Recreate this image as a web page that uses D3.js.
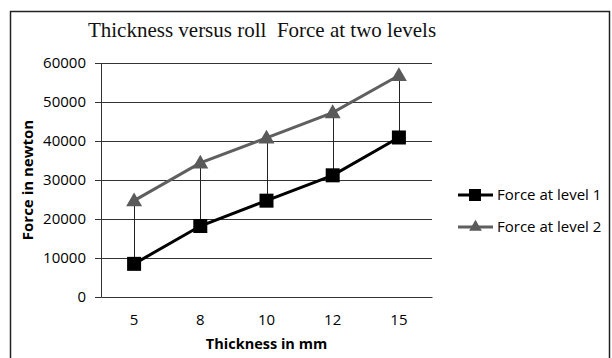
<!DOCTYPE html>
<html>
<head>
<meta charset="utf-8">
<script src="https://cdn.jsdelivr.net/npm/d3@7"></script>
<style>
  body { margin: 0; background: #fff; overflow: hidden; }
</style>
</head>
<body>
<svg id="chart" width="612" height="358"></svg>
<script>
const thickness = ['5', '8', '10', '12', '15'];
const forceLevel1 = [8500, 18200, 24700, 31200, 40900];
const forceLevel2 = [24700, 34400, 40800, 47300, 56800];
const yTicks = [0, 10000, 20000, 30000, 40000, 50000, 60000];
const seriesNames = ['Force at level 1', 'Force at level 2'];

const svg = d3.select('#chart');
const margin = { top: 63, left: 101, right: 180, bottom: 61 };
const width = +svg.attr('width');
const height = +svg.attr('height');
const innerWidth = width - margin.left - margin.right;
const innerHeight = height - margin.top - margin.bottom;
const sans = '"Open Sans", "Liberation Sans", sans-serif';

// outer frame (bottom edge runs past the picture, as in the original)
svg.append('rect')
    .attr('x', 10.5).attr('y', 11.5)
    .attr('width', 599).attr('height', 352)
    .attr('fill', 'none')
    .attr('stroke', '#222')
    .attr('stroke-width', 1.5);

svg.append('text')
    .attr('x', 262).attr('y', 37)
    .attr('text-anchor', 'middle')
    .style('font-family', '"Liberation Serif", "Times New Roman", serif')
    .style('font-size', '21px')
    .style('white-space', 'pre')
    .style('fill', '#111')
    .text('Thickness versus roll  Force at two levels');

const x = d3.scaleBand().domain(thickness).range([0, innerWidth]);
const y = d3.scaleLinear().domain([0, 60000]).range([innerHeight, 0]);

const g = svg.append('g')
    .attr('transform', 'translate(' + margin.left + ',' + margin.top + ')');

// gridlines
g.selectAll('.grid')
    .data(yTicks.filter(d => d > 0))
    .enter().append('line')
    .attr('x1', 0).attr('x2', innerWidth)
    .attr('y1', d => Math.round(y(d)) + 0.5)
    .attr('y2', d => Math.round(y(d)) + 0.5)
    .attr('stroke', '#333')
    .attr('stroke-width', 1);

const yAxis = d3.axisLeft(y).tickValues(yTicks).tickSize(6).tickPadding(9).tickFormat(d3.format('d'));
const yAxisG = g.append('g').call(yAxis);
yAxisG.selectAll('line,path').attr('stroke', '#333');
yAxisG.selectAll('text')
    .style('font-family', sans).style('font-size', '15px').style('fill', '#000');

const xAxis = d3.axisBottom(x).tickSize(0).tickPadding(17);
const xAxisG = g.append('g').attr('transform', 'translate(0,' + innerHeight + ')').call(xAxis);
xAxisG.selectAll('path').attr('stroke', '#333');
xAxisG.selectAll('text')
    .style('font-family', sans).style('font-size', '15px').style('fill', '#000');

const cx = d => x(d) + x.bandwidth() / 2;

// high-low lines
g.selectAll('.hilo')
    .data(thickness)
    .enter().append('line')
    .attr('x1', d => Math.round(cx(d)) + 0.5)
    .attr('x2', d => Math.round(cx(d)) + 0.5)
    .attr('y1', (d, i) => y(forceLevel2[i]))
    .attr('y2', (d, i) => y(forceLevel1[i]))
    .attr('stroke', '#222')
    .attr('stroke-width', 1);

const line = d3.line().x((d, i) => cx(thickness[i])).y(d => y(d));

g.append('path').datum(forceLevel2)
    .attr('d', line).attr('fill', 'none')
    .attr('stroke', '#5f5f5f').attr('stroke-width', 3);

g.append('path').datum(forceLevel1)
    .attr('d', line).attr('fill', 'none')
    .attr('stroke', '#000').attr('stroke-width', 3);

const tri = d3.symbol().type(d3.symbolTriangle).size(110);
g.selectAll('.tri')
    .data(forceLevel2)
    .enter().append('path')
    .attr('d', tri)
    .attr('transform', (d, i) => 'translate(' + cx(thickness[i]) + ',' + (y(d) + 1) + ')')
    .attr('fill', '#5a5a5a');

g.selectAll('.sq')
    .data(forceLevel1)
    .enter().append('rect')
    .attr('x', (d, i) => cx(thickness[i]) - 7)
    .attr('y', d => y(d) - 7)
    .attr('width', 14).attr('height', 14)
    .attr('fill', '#000');

// axis titles
svg.append('text')
    .attr('transform', 'translate(33,' + (margin.top + innerHeight / 2) + ') rotate(-90)')
    .attr('text-anchor', 'middle')
    .style('font-family', sans).style('font-size', '15px').style('font-weight', 'bold')
    .text('Force in newton');

svg.append('text')
    .attr('x', margin.left + innerWidth / 2).attr('y', 349)
    .attr('text-anchor', 'middle')
    .style('font-family', sans).style('font-size', '14.5px').style('font-weight', 'bold')
    .text('Thickness in mm');

// legend
const legend = svg.append('g').attr('transform', 'translate(458,195)');
const legendRows = legend.selectAll('g')
    .data(seriesNames)
    .enter().append('g')
    .attr('transform', (d, i) => 'translate(0,' + (i * 32) + ')');

legendRows.append('line')
    .attr('x1', 0).attr('x2', 35).attr('y1', 0).attr('y2', 0)
    .attr('stroke', (d, i) => i === 0 ? '#000' : '#5f5f5f')
    .attr('stroke-width', 3);

legendRows.filter((d, i) => i === 0).append('rect')
    .attr('x', 11).attr('y', -6).attr('width', 12).attr('height', 12).attr('fill', '#000');

legendRows.filter((d, i) => i === 1).append('path')
    .attr('d', d3.symbol().type(d3.symbolTriangle).size(70))
    .attr('transform', 'translate(17.5,0)')
    .attr('fill', '#5a5a5a');

legendRows.append('text')
    .attr('x', 39).attr('y', 5)
    .style('font-family', sans).style('font-size', '15px')
    .text(d => d);
</script>
</body>
</html>
